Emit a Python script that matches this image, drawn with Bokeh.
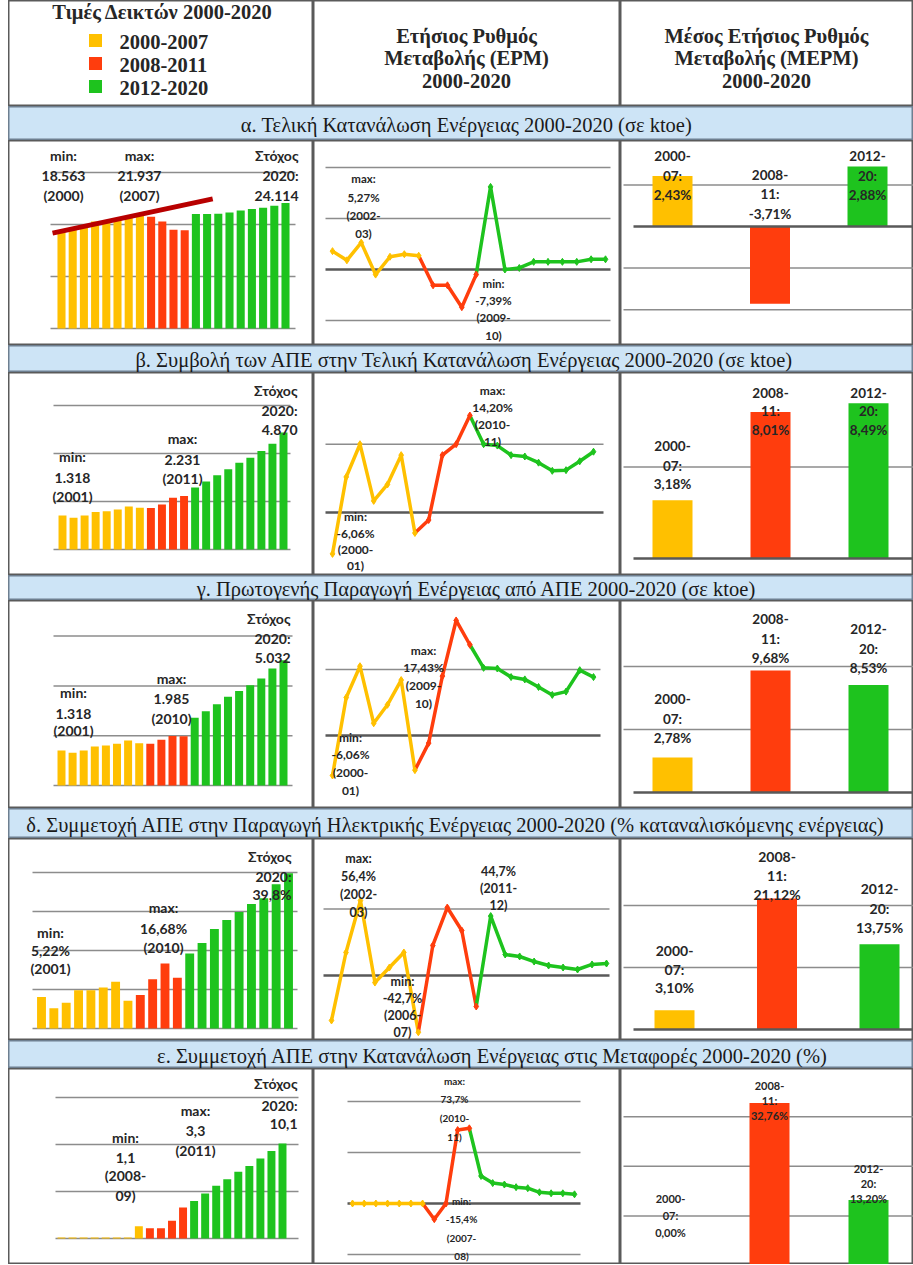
from bokeh.plotting import figure
from bokeh.layouts import column, row
from bokeh.models import Range1d, ColumnDataSource, Spacer
from bokeh.core.properties import value
from bokeh.embed import file_html
from bokeh.resources import INLINE
import numpy as np

# ---------------- data ----------------
years = list(range(2000, 2021))
periods = list(range(20))          # 2000-01 ... 2019-20
merm_groups = ["2000-07", "2008-11", "2012-20"]

legend_title = "Τιμές Δεικτών 2000-2020"
legend_labels = ["2000-2007", "2008-2011", "2012-2020"]
col2_title = ["Ετήσιος Ρυθμός", "Μεταβολής (ΕΡΜ)", "2000-2020"]
col3_title = ["Μέσος Ετήσιος Ρυθμός", "Μεταβολής (ΜΕΡΜ)", "2000-2020"]
band_titles = [
    "α. Τελική Κατανάλωση Ενέργειας 2000-2020 (σε ktoe)",
    "β. Συμβολή των ΑΠΕ στην Τελική Κατανάλωση Ενέργειας 2000-2020 (σε ktoe)",
    "γ. Πρωτογενής Παραγωγή Ενέργειας από ΑΠΕ 2000-2020 (σε ktoe)",
    "δ. Συμμετοχή ΑΠΕ στην Παραγωγή Ηλεκτρικής Ενέργειας 2000-2020 (% καταναλισκόμενης ενέργειας)",
    "ε. Συμμετοχή ΑΠΕ στην Κατανάλωση Ενέργειας στις Μεταφορές 2000-2020 (%)",
]

# α. final energy consumption (ktoe)
a_values = [18563, 19200, 19550, 20580, 20380, 20900, 21450, 21937, 21500, 20600, 19000, 18900,
            22000, 22000, 22050, 22300, 22700, 23000, 23200, 23600, 24114]
a_erm = [3.6, 1.8, 5.27, -1.0, 2.5, 3.0, 2.7, -3.1, -3.1, -7.39, -1.0, 16.2,
         0.0, 0.3, 1.5, 1.5, 1.5, 1.5, 2.0, 2.0]
a_merm = [2.43, -3.71, 2.88]
a_min_lbl = ["min:", "18.563", "(2000)"]
a_max_lbl = ["max:", "21.937", "(2007)"]
a_tgt_lbl = ["Στόχος", "2020:", "24.114"]
a_erm_max_lbl = ["max:", "5,27%", "(2002-", "03)"]
a_erm_min_lbl = ["min:", "-7,39%", "(2009-", "10)"]

# β. RES contribution to final energy consumption (ktoe)
b_values = [1420, 1318, 1420, 1560, 1590, 1670, 1790, 1740, 1730, 1880, 2160, 2231,
            2580, 2830, 3090, 3340, 3610, 3820, 4100, 4410, 4870]
b_erm = [-6.06, 5.2, 10.0, 1.7, 4.1, 8.4, -3.0, -1.1, 8.4, 10.0, 14.2, 10.0,
         9.8, 8.4, 8.2, 7.3, 6.1, 6.2, 7.5, 8.9]
b_merm = [3.18, 8.01, 8.49]
b_min_lbl = ["min:", "1.318", "(2001)"]
b_max_lbl = ["max:", "2.231", "(2011)"]
b_tgt_lbl = ["Στόχος", "2020:", "4.870"]
b_erm_max_lbl = ["max:", "14,20%", "(2010-", "11)"]
b_erm_min_lbl = ["min:", "-6,06%", "(2000-", "01)"]

# γ. primary RES production (ktoe)
g_values = [1410, 1318, 1410, 1570, 1610, 1680, 1810, 1700, 1680, 1840, 1985, 1980,
            2720, 2980, 3260, 3560, 3800, 4030, 4300, 4700, 5032]
g_erm = [-6.06, 5.75, 10.5, 1.85, 4.65, 8.4, -5.25, -1.15, 9.0, 17.43, 13.75, 10.25,
         10.15, 8.85, 8.5, 7.35, 6.15, 6.65, 9.9, 8.85]
g_merm = [2.78, 9.68, 8.53]
g_min_lbl = ["min:", "1.318", "(2001)"]
g_max_lbl = ["max:", "1.985", "(2010)"]
g_tgt_lbl = ["Στόχος", "2020:", "5.032"]
g_erm_max_lbl = ["max:", "17,43%", "(2009-", "10)"]
g_erm_min_lbl = ["min:", "-6,06%", "(2000-", "01)"]

# δ. RES share in electricity (%)
d_values = [8.1, 5.22, 6.6, 9.8, 9.8, 10.5, 12.0, 7.1, 8.6, 12.6, 16.68, 13.0,
            19.2, 21.9, 25.5, 27.8, 29.9, 31.9, 33.4, 37.0, 39.8]
d_erm = [-33.8, 17.3, 56.4, -5.3, 6.0, 17.3, -42.7, 22.6, 51.1, 33.8, -23.3, 44.7,
         15.8, 14.3, 10.5, 7.5, 6.0, 4.5, 8.3, 9.0]
d_merm = [3.10, 21.12, 13.75]
d_min_lbl = ["min:", "5,22%", "(2001)"]
d_max_lbl = ["max:", "16,68%", "(2010)"]
d_tgt_lbl = ["Στόχος", "2020:", "39,8%"]
d_erm_max_lbl = ["max:", "56,4%", "(2002-", "03)"]
d_erm_min_lbl = ["min:", "-42,7%", "(2006-", "07)"]
d_erm_ext_lbl = ["44,7%", "(2011-", "12)"]

# ε. RES share in transport (%)
e_values = [0.1, 0.1, 0.1, 0.1, 0.1, 0.1, 0.1, 1.3, 1.1, 1.1, 1.9, 3.3,
            4.0, 4.8, 5.6, 6.3, 7.1, 7.7, 8.5, 9.3, 10.1]
e_erm = [0.0, 0.0, 0.0, 0.0, 0.0, 0.0, 0.0, -15.4, 0.0, 72.0, 73.7, 27.0,
         20.0, 18.6, 16.0, 15.0, 11.0, 10.0, 10.0, 9.0]
e_merm = [0.00, 32.76, 13.20]
e_min_lbl = ["min:", "1,1", "(2008-", "09)"]
e_max_lbl = ["max:", "3,3", "(2011)"]
e_tgt_lbl = ["Στόχος", "2020:", "10,1"]
e_erm_max_lbl = ["max:", "73,7%", "(2010-", "11)"]
e_erm_min_lbl = ["min:", "-15,4%", "(2007-", "08)"]

# ---------------- style / layout ----------------
YELLOW, RED, GREEN = "#FFC000", "#FF3D0D", "#1EC31E"
TREND = "#B80000"
SANS, SERIF = "Lato", "Liberation Serif"
TXT = "#262626"
BORDER = "#5A5A5A"
GRID = "#8C8C8C"
ZERO = "#595959"
BAND_BG, BAND_EDGE = "#CDE4F6", "#6E7F90"

LEFT = 8
W1, W2, W3 = 305, 307, 293
WT = W1 + W2 + W3
HEAD_H = 106
BAND_H = [34, 27, 25, 30, 28]
SEC_H = [205, 203, 208, 202, 196]
BAND_CX = [458, 456, 468, 447, 484]
F1 = "14px"


def year_color(y):
    return YELLOW if y <= 2007 else (RED if y <= 2011 else GREEN)


def period_color(i):
    return YELLOW if i <= 6 else (RED if i <= 10 else GREEN)


def lin_range(v0, v1, p0, p1, size):
    k = (p1 - p0) / (v1 - v0)
    s = v0 - p0 / k
    return s, s + size / k


def val_range(zero_px, ppu, H):
    return -(H - zero_px) / ppu, zero_px / ppu


def make_fig(W, H, xr, yr, bg="white", outline=BORDER, ow=2):
    p = figure(width=W, height=H, x_range=Range1d(*xr), y_range=Range1d(*yr),
               x_axis_location=None, y_axis_location=None, toolbar_location=None,
               output_backend="svg", min_border=0)
    p.grid.visible = False
    p.background_fill_color = bg
    p.border_fill_color = bg
    p.outline_line_color = outline
    p.outline_line_width = ow
    return p


def X(p, px):
    r = p.x_range
    return r.start + px / p.width * (r.end - r.start)


def Y(p, py):
    r = p.y_range
    return r.end - py / p.height * (r.end - r.start)


def add_lines(p, x, ys, lines, size, align="center", font=SANS, style="bold", color=TXT):
    p.text(x=[X(p, x)] * len(lines), y=[Y(p, y) for y in ys], text=lines,
           text_align=align, text_baseline="middle", text_font=value(font),
           text_font_size=size, text_font_style=style, text_color=color)


def hgrid(p, ticks, gx, zero_bold=False):
    x0, x1 = X(p, gx[0]), X(p, gx[1])
    for t in ticks:
        bold = zero_bold and t == 0
        p.segment(x0=[x0], y0=[t], x1=[x1], y1=[t],
                  line_color=ZERO if bold else GRID, line_width=2.5 if bold else 1.5)


C1 = [
    dict(x0=53, x1=277, base=188, ppu=0.0052, ticks=[0, 10000, 20000, 30000], gx=(42, 287)),
    dict(x0=54, x1=275, base=177, ppu=0.024, ticks=[0, 2000, 4000, 6000], gx=(45, 282)),
    dict(x0=53, x1=275, base=185, ppu=0.0249, ticks=[0, 2000, 4000, 6000], gx=(45, 284)),
    dict(x0=33, x1=280, base=190, ppu=3.9, ticks=[0, 10, 20, 30, 40], gx=(24, 289)),
    dict(x0=53, x1=274, base=170, ppu=9.4, ticks=[0, 5, 10, 15], gx=(47, 290)),
]
L1 = [
    dict(min=(55, [15, 35, 55], "center"), max=(131, [15, 35, 55], "center"), tgt=(290, [15, 35, 55], "right")),
    dict(min=(64, [84, 105, 124], "center"), max=(174, [66, 87, 106], "center"), tgt=(289, [18, 38, 57], "right")),
    dict(min=(65, [92, 113, 130], "center"), max=(163, [78, 98, 118], "center"), tgt=(282, [18, 38, 57], "right")),
    dict(min=(42, [94, 112, 130], "center"), max=(155, [69, 90, 109], "center"), tgt=(283, [18, 38, 56], "right")),
    dict(min=(117, [69, 89, 107, 127], "center"), max=(187, [42, 62, 82], "center"), tgt=(289, [15, 37, 55], "right")),
]
C2 = [
    dict(x0=19, x1=292, zero=129, ppu=5.1, ticks=[-10, 0, 10, 20], gx=(12, 297), fs="11.5px"),
    dict(x0=19, x1=280, zero=140, ppu=6.83, ticks=[0, 10], gx=(12, 290), fs="12px"),
    dict(x0=19, x1=280, zero=135, ppu=6.6, ticks=[0, 10], gx=(12, 287), fs="12px"),
    dict(x0=18, x1=293, zero=137, ppu=1.33, ticks=[0, 50], gx=(10, 296), fs="12.5px"),
    dict(x0=39, x1=261, zero=135, ppu=1.02, ticks=[-50, 0, 50, 100], gx=(34, 267), fs="10px"),
]
L2 = [
    dict(max=(50, [38, 57, 75, 93]), min=(180, [143, 160, 177, 195])),
    dict(max=(179, [18, 35, 52, 69]), min=(42, [144, 161, 177, 193])),
    dict(max=(110, [50, 67, 85, 103]), min=(37, [137, 154, 172, 190])),
    dict(max=(45, [20, 38, 56, 74]), min=(89, [143, 160, 177, 194]), ext=(185, [33, 50, 67])),
    dict(max=(141, [12, 30, 49, 68]), min=(148, [132, 150, 169, 187])),
]
C3 = [
    dict(x0=52, x1=247, zero=86, ppu=20.8, ticks=[-4, -2, 0, 2], gx=(3, 293), fs="13.5px"),
    dict(x0=52, x1=248, zero=186, ppu=18.3, ticks=[0, 5], gx=(3, 293), fs="13.5px"),
    dict(x0=52, x1=248, zero=192, ppu=12.6, ticks=[0, 5, 10], gx=(3, 293), fs="13.5px"),
    dict(x0=54, x1=259, zero=191, ppu=6.2, ticks=[0, 10, 20], gx=(3, 293), fs="14px"),
    dict(x0=50, x1=248, zero=197, ppu=4.96, ticks=[0, 10, 20, 30], gx=(3, 293), fs="11px"),
]
L3 = [
    [[15, 35, 54], [34, 53, 73], [15, 35, 54]],
    [[73, 93, 111], [20, 38, 57], [20, 38, 57]],
    [[98, 118, 137], [18, 38, 57], [28, 48, 67]],
    [[112, 131, 149], [18, 37, 56], [50, 70, 89]],
    [[130, 147, 164], [17, 32, 47], [100, 115, 130]],
]


def bars_panel(vals, H, c, lbls, lp):
    xr = lin_range(years[0], years[-1], c["x0"], c["x1"], W1)
    yr = val_range(c["base"], c["ppu"], H)
    p = make_fig(W1, H, xr, yr)
    hgrid(p, c["ticks"], c["gx"])
    src = ColumnDataSource(dict(x=years, top=vals, color=[year_color(y) for y in years]))
    p.vbar(x="x", top="top", bottom=0, width=0.72, fill_color="color", line_color=None, source=src)
    for key, (x, ys, align) in lp.items():
        add_lines(p, x, ys, lbls[key], F1, align)
    return p


def erm_panel(vals, H, c, lbls, lp):
    xr = lin_range(periods[0], periods[-1], c["x0"], c["x1"], W2)
    yr = val_range(c["zero"], c["ppu"], H)
    p = make_fig(W2, H, xr, yr)
    hgrid(p, c["ticks"], c["gx"], zero_bold=True)
    for a, b, col in [(0, 7, YELLOW), (6, 11, RED), (10, 20, GREEN)]:
        p.line(periods[a:b], vals[a:b], line_color=col, line_width=3.5, line_join="round")
    p.scatter(periods, vals, marker="diamond", size=7,
              color=[period_color(i) for i in periods])
    for key, (x, ys) in lp.items():
        add_lines(p, x, ys, lbls[key], c["fs"])
    return p


def merm_panel(vals, H, c, lys):
    xr = lin_range(0, 2, c["x0"], c["x1"], W3)
    yr = val_range(c["zero"], c["ppu"], H)
    p = make_fig(W3, H, xr, yr)
    hgrid(p, [t for t in c["ticks"] if t != 0], c["gx"])
    bw = 40 / ((c["x1"] - c["x0"]) / 2)
    p.vbar(x=[0, 1, 2], top=vals, bottom=0, width=bw, fill_color=[YELLOW, RED, GREEN], line_color=None)
    hgrid(p, [0], (c["gx"][0] + 10, c["gx"][1]), zero_bold=True)
    step = (c["x1"] - c["x0"]) / 2
    for i, (g, v) in enumerate(zip(merm_groups, vals)):
        a, b = g.split("-")
        lines = [a + "-", b + ":", f"{v:.2f}".replace(".", ",") + "%"]
        add_lines(p, c["x0"] + i * step, lys[i], lines, c["fs"])
    return p


def band(i):
    H = BAND_H[i]
    p = make_fig(WT, H, (0, WT), (0, H), bg=BAND_BG, outline=BAND_EDGE, ow=2)
    add_lines(p, BAND_CX[i], [H / 2 + 1], [band_titles[i]], "20.5px", font=SERIF,
              style="normal", color="#1A1A1A")
    return p


# ---------------- header ----------------
h1 = make_fig(W1, HEAD_H, (0, W1), (0, HEAD_H))
add_lines(h1, 154, [11], [legend_title], "20.5px", font=SERIF)
leg_y = [40, 63, 86]
h1.scatter(x=[X(h1, 87)] * 3, y=[Y(h1, y) for y in leg_y], marker="square", size=13,
           color=[YELLOW, RED, GREEN], line_color=None)
h1.text(x=[X(h1, 111)] * 3, y=[Y(h1, y + 1) for y in leg_y], text=legend_labels,
        text_align="left", text_baseline="middle", text_font=value(SERIF),
        text_font_size="20.5px", text_font_style="bold", text_color=TXT)

h2 = make_fig(W2, HEAD_H, (0, W2), (0, HEAD_H))
add_lines(h2, 153, [35, 57, 80], col2_title, "20.5px", font=SERIF)
h3 = make_fig(W3, HEAD_H, (0, W3), (0, HEAD_H))
add_lines(h3, 146, [35, 57, 80], col3_title, "20.5px", font=SERIF)

# ---------------- sections ----------------
sections = [
    (a_values, a_erm, a_merm, dict(min=a_min_lbl, max=a_max_lbl, tgt=a_tgt_lbl),
     dict(max=a_erm_max_lbl, min=a_erm_min_lbl)),
    (b_values, b_erm, b_merm, dict(min=b_min_lbl, max=b_max_lbl, tgt=b_tgt_lbl),
     dict(max=b_erm_max_lbl, min=b_erm_min_lbl)),
    (g_values, g_erm, g_merm, dict(min=g_min_lbl, max=g_max_lbl, tgt=g_tgt_lbl),
     dict(max=g_erm_max_lbl, min=g_erm_min_lbl)),
    (d_values, d_erm, d_merm, dict(min=d_min_lbl, max=d_max_lbl, tgt=d_tgt_lbl),
     dict(max=d_erm_max_lbl, min=d_erm_min_lbl, ext=d_erm_ext_lbl)),
    (e_values, e_erm, e_merm, dict(min=e_min_lbl, max=e_max_lbl, tgt=e_tgt_lbl),
     dict(max=e_erm_max_lbl, min=e_erm_min_lbl)),
]

children = [row(h1, h2, h3)]
for i, (vals, erm, merm, l1, l2) in enumerate(sections):
    H = SEC_H[i]
    p1 = bars_panel(vals, H, C1[i], l1, L1[i])
    if i == 0:
        k, b0 = np.polyfit(years[:8], vals[:8], 1)
        tx = [years[0] - 0.8, years[0] + 13.5]
        p1.line(tx, [k * x + b0 for x in tx], line_color=TREND, line_width=5)
    p2 = erm_panel(erm, H, C2[i], l2, L2[i])
    p3 = merm_panel(merm, H, C3[i], L3[i])
    children.append(band(i))
    children.append(row(p1, p2, p3))

layout = row(Spacer(width=LEFT, height=10), column(*children))
open("out.html", "w").write(file_html(layout, INLINE, title="Δείκτες ΑΠΕ 2000-2020"))
